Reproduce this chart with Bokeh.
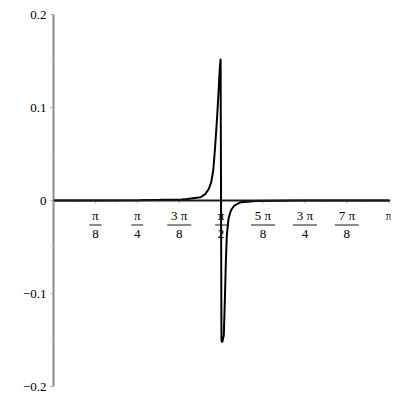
from bokeh.plotting import figure
from bokeh.models import FixedTicker, Span, CustomJSTickFormatter
from bokeh.core.properties import value
from bokeh.embed import file_html
from bokeh.resources import INLINE
import numpy as np

# curve samples
curve_x = [0.0, 0.40, 0.80, 1.00, 1.20, 1.253, 1.378, 1.425, 1.456, 1.478, 1.497, 1.512,
           1.525, 1.537, 1.549, 1.559, 1.566, 1.574, 1.581, 1.596, 1.607, 1.615, 1.624,
           1.640, 1.662, 1.694, 1.755, 1.90, 2.30, 2.80, 3.1416]
curve_y = [0.0, 0.0001, 0.0004, 0.0007, 0.0012, 0.0015, 0.0035, 0.0072, 0.0126, 0.0197,
           0.0323, 0.0538, 0.0753, 0.0968, 0.1222, 0.1434, 0.1523, -0.1500, -0.1525,
           -0.1450, -0.1020, -0.0663, -0.0376, -0.0197, -0.0108, -0.0054, -0.0018,
           -0.0005, -0.0001, 0.0, 0.0]

# x tick labels (fractions of pi)
x_ticks = [np.pi / 8, np.pi / 4, 3 * np.pi / 8, np.pi / 2, 5 * np.pi / 8, 3 * np.pi / 4, 7 * np.pi / 8, np.pi]
x_num = ["π", "π", "3 π", "π", "5 π", "3 π", "7 π", "π"]
x_den = ["8", "4", "8", "2", "8", "4", "8", ""]
x_minor = [np.pi / 16, 3 * np.pi / 16, 5 * np.pi / 16, 7 * np.pi / 16, 9 * np.pi / 16,
           11 * np.pi / 16, 13 * np.pi / 16, 15 * np.pi / 16]

# y ticks
y_ticks = [-0.2, -0.1, 0.0, 0.1, 0.2]
y_minor = [-0.15, -0.05, 0.05, 0.15]

PXX = 337 / 3.158  # px per x unit
PXY = 372 / 0.4    # px per y unit
FONT = "Liberation Serif"

p = figure(width=392, height=392, output_backend="svg", toolbar_location=None,
           x_range=(0, 3.158), y_range=(-0.2, 0.2), x_axis_location=None,
           min_border_left=53, min_border_right=2, min_border_top=14, min_border_bottom=6)
p.outline_line_color = None
p.grid.visible = False
p.background_fill_color = "white"

ax = p.yaxis[0]
ax.ticker = FixedTicker(ticks=y_ticks, minor_ticks=y_minor)
ax.formatter = CustomJSTickFormatter(code="""
if (Math.abs(tick) < 1e-9) return "0";
return tick.toFixed(1).replace("-", "\u2212");
""")
ax.axis_line_color = "#8c8c8c"
ax.axis_line_width = 2
ax.major_tick_line_color = "#aaaaaa"
ax.major_tick_out = 3
ax.major_tick_in = 0
ax.minor_tick_line_color = "#cccccc"
ax.minor_tick_out = 2
ax.minor_tick_in = 0
ax.major_label_standoff = 4
ax.major_label_text_font = FONT
ax.major_label_text_font_size = "13px"
ax.major_label_text_color = "black"

# x axis line at y=0
p.add_layout(Span(location=0, dimension="width", line_color="#1a1a1a", line_width=2))

# x ticks (small, light)
p.segment(x0=x_ticks, y0=[0] * len(x_ticks), x1=x_ticks, y1=[-3 / PXY] * len(x_ticks),
          line_color="#bbbbbb", line_width=1)
p.segment(x0=x_minor, y0=[0] * len(x_minor), x1=x_minor, y1=[-2 / PXY] * len(x_minor),
          line_color="#cccccc", line_width=1)

# fraction labels
p.text(x=x_ticks, y=[-15 / PXY] * len(x_ticks), text=x_num, text_align="center",
       text_baseline="middle", text_font=value(FONT), text_font_size="13px",
       text_color="black")
frac_x = [t for t, d in zip(x_ticks, x_den) if d]
frac_d = [d for d in x_den if d]
frac_w = [24 if len(n) > 1 else 12 for n, d in zip(x_num, x_den) if d]
p.rect(x=frac_x, y=[-24.5 / PXY] * len(frac_x), width=frac_w, height=[2] * len(frac_x),
       width_units="screen", height_units="screen", fill_color="#8c8c8c", line_color=None)
p.text(x=frac_x, y=[-33.5 / PXY] * len(frac_x), text=frac_d, text_align="center",
       text_baseline="middle", text_font=value(FONT), text_font_size="13px",
       text_color="black")

# curve
p.line(curve_x, curve_y, line_color="black", line_width=2)

open("out.html", "w").write(file_html(p, INLINE))
